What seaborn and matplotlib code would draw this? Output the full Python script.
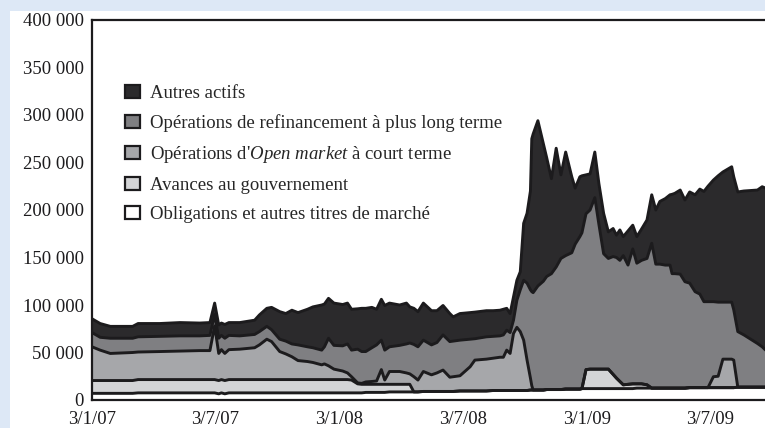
import matplotlib
matplotlib.use('Agg')
import matplotlib.pyplot as plt
from matplotlib.patches import Patch, Rectangle
import numpy as np
import pandas as pd
import seaborn as sns

dates = [
    "2007-01-03", "2007-01-15", "2007-01-30", "2007-03-04", "2007-03-12", "2007-04-13", "2007-05-13", "2007-06-11", "2007-06-26", "2007-07-03",
    "2007-07-09", "2007-07-13", "2007-07-18", "2007-07-24", "2007-08-09", "2007-08-31", "2007-09-07", "2007-09-18", "2007-09-25", "2007-10-07",
    "2007-10-16", "2007-10-25", "2007-11-03", "2007-11-17", "2007-11-25", "2007-12-08", "2007-12-12", "2007-12-18", "2007-12-26", "2008-01-08",
    "2008-01-15", "2008-01-21", "2008-01-30", "2008-02-05", "2008-02-11", "2008-02-20", "2008-02-27", "2008-03-05", "2008-03-10", "2008-03-17",
    "2008-04-01", "2008-04-11", "2008-04-16", "2008-04-22", "2008-04-28", "2008-05-06", "2008-05-18", "2008-05-26", "2008-06-04", "2008-06-14",
    "2008-06-19", "2008-06-29", "2008-07-14", "2008-07-21", "2008-08-07", "2008-08-17", "2008-08-27", "2008-09-01", "2008-09-06", "2008-09-11",
    "2008-09-16", "2008-09-21", "2008-09-26", "2008-10-01", "2008-10-06", "2008-10-11", "2008-10-13", "2008-10-15", "2008-10-22", "2008-10-30",
    "2008-11-04", "2008-11-11", "2008-11-18", "2008-11-25", "2008-12-02", "2008-12-11", "2008-12-16", "2008-12-23", "2008-12-26", "2009-01-01",
    "2009-01-07", "2009-01-14", "2009-01-20", "2009-01-27", "2009-02-03", "2009-02-10", "2009-02-15", "2009-02-20", "2009-02-25", "2009-03-04",
    "2009-03-11", "2009-03-17", "2009-03-24", "2009-04-01", "2009-04-08", "2009-04-14", "2009-04-20", "2009-04-28", "2009-05-05", "2009-05-08",
    "2009-05-12", "2009-05-20", "2009-05-27", "2009-06-03", "2009-06-11", "2009-06-18", "2009-06-24", "2009-06-30", "2009-07-08", "2009-07-15",
    "2009-07-22", "2009-08-04", "2009-08-07", "2009-08-13", "2009-08-22", "2009-09-01", "2009-09-11", "2009-09-18", "2009-09-23"]

# values in thousands (x 1000 below)
obligations = [
    7, 7, 7, 7, 7.5, 7.5, 7.5, 7.5, 7.5, 7.5,
    6.5, 7.5, 6.5, 7.5, 7.5, 7.5, 7.5, 7.5, 7.5, 7.5,
    7.5, 7.5, 7.5, 7.5, 7.5, 7.5, 7.5, 7.5, 7.5, 7.5,
    7.5, 7.5, 7.5, 7.5, 8, 8, 8, 8, 8, 8.5,
    8.5, 8.5, 8.5, 8.5, 8.5, 9, 9, 9, 9, 9,
    9, 9.5, 9.5, 9.5, 9.5, 10, 10, 10, 10, 10,
    10, 10, 10, 10, 10, 10.5, 10.5, 10.5, 10.5, 10.5,
    11, 11, 11, 11, 11.5, 11.5, 11.5, 11.5, 12, 12,
    12, 12, 12, 12, 12, 12, 12, 12, 12, 12,
    12, 12.5, 12.5, 12.5, 12.5, 12.5, 12.5, 12.5, 12.5, 12.5,
    12.5, 12.5, 12.5, 13, 13, 13, 13, 13, 13, 13,
    13, 13, 13, 13.5, 13.5, 13.5, 13.5, 13.5, 13.5]

avances = [
    13.5, 13.5, 13.5, 13.5, 14, 14, 14, 14, 14, 14,
    14, 14, 14, 14, 14, 14, 14, 14, 14, 14,
    14, 14, 14, 14, 14, 14, 14, 14, 14, 14,
    14, 13.5, 9.5, 9, 8.5, 8.5, 8.5, 8.5, 8.5, 8,
    8, 8, 8, 0, 0, 0, 0, 0, 0, 0,
    0, 0, 0, 0, 0, 0, 0, 0, 0, 0,
    0, 0, 0, 0, 0, 0, 0, 0, 0, 0,
    0, 0, 0, 0, 0, 0, 0, 0, 0, 20,
    20.5, 20.5, 20.5, 20.5, 20.5, 15, 11, 7.5, 4, 4.5,
    5, 4.5, 4.5, 3.5, 0, 0, 0, 0, 0, 0,
    0, 0, 0, 0, 0, 0, 0, 0, 0, 0,
    0, 0, 0, 0, 0, 0, 0, 0, 0]

open_market = [
    35.5, 32, 28.5, 29.5, 29, 29.5, 30, 30.5, 30.5, 56.5,
    28.5, 31.5, 28.5, 31.5, 32, 33.5, 36.5, 42.5, 40, 29.5,
    27, 24, 20, 19, 18, 15.5, 16.5, 14.5, 11, 9,
    7, 3.5, 1, 1, 2.5, 3, 3.5, 15.5, 4.5, 13.5,
    13.5, 12, 11, 16, 12.5, 21, 17.5, 19.5, 22.5, 15,
    15.5, 16, 25.5, 32.5, 33.5, 34, 35, 35, 42.5, 39,
    60, 66.5, 62, 53, 32, 12.5, 4.5, 0, 0, 0,
    0, 0, 0, 0, 0, 0, 0, 0, 0, 0,
    0, 0, 0, 0, 0, 0, 0, 0, 0, 0,
    0, 0, 0, 0, 0, 0, 0, 0, 0, 0,
    0, 0, 0, 0, 0, 0, 0, 0, 11.5, 12,
    30, 30, 29, 0, 0, 0, 0, 0, 0]

ltro = [
    15, 13.5, 16, 15, 16, 16, 16, 15.5, 16, 12,
    16, 15, 16, 15, 14, 14, 14, 13.5, 12.5, 13,
    13.5, 13.5, 16.5, 15.5, 15.5, 15.5, 18, 29, 25, 26.5,
    30.5, 28, 35.5, 33.5, 32, 35.5, 38, 31, 31.5, 26,
    27.5, 30.5, 32.5, 34, 35, 33, 31.5, 32, 37, 37.5,
    37.5, 37.5, 29, 22.5, 23.5, 23, 22.5, 23.5, 21, 22,
    14, 28.5, 44, 63, 81, 93, 99, 102.5, 109.5, 114.5,
    119, 122, 129, 138, 140.5, 143.5, 152.5, 160.5, 164, 164,
    167.5, 180.5, 152.5, 121.5, 116.5, 124, 127, 127.5, 136, 125.5,
    142, 127, 130, 133, 152.5, 130.5, 130.5, 129.5, 129.5, 120.5,
    120.5, 120, 112, 110, 101, 98.5, 90.5, 90.5, 79, 78,
    60, 60, 53, 58.5, 55, 50.5, 46, 42.5, 39]

autres = [
    14.5, 14.5, 12.5, 12.5, 14, 13.5, 14, 13.5, 13.5, 12,
    14, 13, 14.5, 13.5, 14, 15, 17.5, 19, 23.5, 29,
    29, 35.5, 34, 39.5, 43, 47.5, 45, 42, 44.5, 43.5,
    43, 43, 42.5, 45.5, 45.5, 42.5, 37.5, 43, 47, 46,
    42.5, 43, 38, 38, 37, 39, 36, 33.5, 31, 29.5,
    25.5, 28, 28, 28, 27.5, 27, 27, 27, 23, 20,
    24.5, 21, 19, 60, 73.5, 104, 161, 167, 174, 145,
    125, 100, 125, 88, 109, 80, 59, 63, 60, 41,
    38, 48, 43, 42.5, 28, 29.5, 23.5, 32, 20, 36,
    25, 28, 33, 40.5, 51, 57, 66, 70, 74, 83.5,
    84.5, 88.5, 86, 96, 102, 110.5, 116, 121.5, 128, 133,
    137, 142.5, 140, 147, 151.5, 156.5, 161.5, 168.5, 170.5]

series_labels = ["Obligations et autres titres de marché",
                 "Avances au gouvernement",
                 "Opérations d'$\\mathit{Open\\ market}$ à court terme",
                 "Opérations de refinancement à plus long terme",
                 "Autres actifs"]
colors = ["#ffffff", "#d3d4d6", "#a6a7aa", "#7f7f82", "#2b2a2c"]

tick_dates = ["2007-01-03", "2007-07-03", "2008-01-03", "2008-07-03", "2009-01-03", "2009-07-03"]
tick_labels = ["3/1/07", "3/7/07", "3/1/08", "3/7/08", "3/1/09", "3/7/09"]

sns.set_style("white")
plt.rcParams["font.family"] = ["Liberation Serif", "DejaVu Serif"]
plt.rcParams["mathtext.fontset"] = "custom"
plt.rcParams["mathtext.rm"] = "Liberation Serif"
plt.rcParams["mathtext.it"] = "Liberation Serif:italic"

ink = "#1c1b1d"
x = pd.to_datetime(dates)
layers = np.vstack([obligations, avances, open_market, ltro, autres]) * 1000
tops = np.cumsum(layers, axis=0)

fig = plt.figure(figsize=(7.65, 4.28), dpi=100)
fig.patch.set_facecolor("#dde8f6")
fig.patches.append(Rectangle((10 / 765, 0), 755 / 765, 417 / 428, transform=fig.transFigure,
                             facecolor="white", edgecolor="none", zorder=-5))

ax = fig.add_axes([92 / 765, 28 / 428, 679 / 765, 380 / 428])
ax.stackplot(x, layers, colors=colors, linewidth=0)
for row in tops:
    sns.lineplot(x=x, y=row, ax=ax, color=ink, linewidth=2.1, estimator=None, sort=False)

ax.set_xlim(pd.Timestamp("2007-01-03"), pd.Timestamp("2009-10-01"))
ax.set_ylim(0, 400000)
yt = list(range(0, 400001, 50000))
ax.set_yticks(yt)
ax.set_yticklabels([f"{v:,}".replace(",", " ") for v in yt])
ax.set_xticks(pd.to_datetime(tick_dates))
ax.set_xticklabels(tick_labels)
ax.set_xlabel("")
ax.set_ylabel("")
ax.tick_params(axis="y", direction="in", length=7, width=1.2, pad=6, labelsize=13.5, colors=ink)
ax.tick_params(axis="x", direction="in", length=5, width=1.2, pad=8, labelsize=13.5, colors=ink)
for s in ax.spines.values():
    s.set_linewidth(1.6)
    s.set_color(ink)

handles = [Patch(facecolor=c, edgecolor=ink, linewidth=1.6) for c in colors][::-1]
ax.legend(handles, series_labels[::-1], loc="upper left", bbox_to_anchor=(0.0486, 0.829),
          frameon=False, fontsize=13.5, handlelength=0.78, handleheight=0.68,
          handletextpad=0.55, labelspacing=0.64, borderpad=0, borderaxespad=0)

fig.savefig("out.png", dpi=100, facecolor=fig.get_facecolor())
